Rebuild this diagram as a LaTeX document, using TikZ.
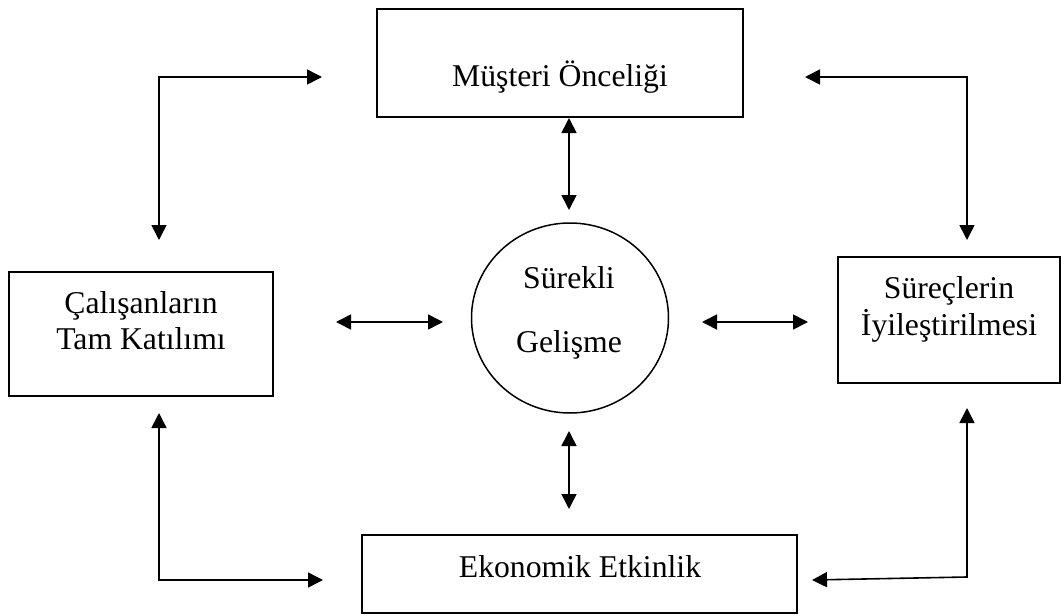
\documentclass[tikz,border=0pt]{standalone}
\usepackage{fontspec}
\setmainfont{Liberation Serif}
\usetikzlibrary{arrows.meta,shapes.geometric}
\newcommand{\lblfont}{\fontsize{31.7}{37}\selectfont}
\begin{document}
\begin{tikzpicture}[x=1pt,y=-1pt,
  box/.style={draw, rectangle, line width=1.8pt, inner sep=0pt},
  hub/.style={draw, ellipse, line width=1.5pt, inner sep=0pt,
              minimum width=197pt, minimum height=190pt},
  txt/.style={anchor=base, inner sep=0pt, font=\lblfont},
  tips/.style={line width=1.6pt,
    {Triangle[length=15pt,width=15pt]}-{Triangle[length=15pt,width=15pt]}},
  elbow/.style={tips, line join=miter}]
\useasboundingbox (0,0) rectangle (1061,616);

% the four boxes and the central circle
\node[box, minimum width=366pt, minimum height=108pt] (top)  at (560,63)    {};
\node[box, minimum width=264pt, minimum height=124pt] (left) at (141,334)   {};
\node[box, minimum width=222pt, minimum height=126pt] (right) at (949,320)  {};
\node[box, minimum width=435pt, minimum height=78pt]  (bot)  at (579.5,574) {};
\node[hub] (hub) at (570,318) {};

% labels
\node[txt] (ttop)  at (560,86)  {Müşteri Önceliği};
\node[txt] (tl1)   at (141,313) {Çalışanların};
\node[txt] (tl2)   at (141,349) {Tam Katılımı};
\node[txt] (tr1)   at (949,298) {Süreçlerin};
\node[txt] (tr2)   at (949,335) {İyileştirilmesi};
\node[txt] (th1)   at (569,288) {Sürekli};
\node[txt] (th2)   at (569,352) {Gelişme};
\node[txt] (tbot)  at (580,577) {Ekonomik Etkinlik};

% arrow end points and bends
\coordinate (a1) at (159,240); \coordinate (ac) at (159,77);  \coordinate (a2) at (322,77);
\coordinate (b1) at (805,77);  \coordinate (bc) at (967,77);  \coordinate (b2) at (967,240);
\coordinate (c1) at (159,413); \coordinate (cc) at (159,580); \coordinate (c2) at (323,580);
\coordinate (d1) at (967,408); \coordinate (dc) at (967,577); \coordinate (d2) at (812,580);
\coordinate (v1) at (569,118); \coordinate (v2) at (569,210);
\coordinate (v3) at (569,431); \coordinate (v4) at (569,509);
\coordinate (h1) at (336,322); \coordinate (h2) at (443,322);
\coordinate (h3) at (702,322); \coordinate (h4) at (808,322);

% corner connectors
\draw[elbow] (a1) -- (ac) -- (a2);
\draw[elbow] (b1) -- (bc) -- (b2);
\draw[elbow] (c1) -- (cc) -- (c2);
\draw[elbow] (d1) -- (dc) -- (d2);

% connectors around the circle
\draw[tips] (v1) -- (v2);
\draw[tips] (v3) -- (v4);
\draw[tips] (h1) -- (h2);
\draw[tips] (h3) -- (h4);
\end{tikzpicture}
\end{document}
